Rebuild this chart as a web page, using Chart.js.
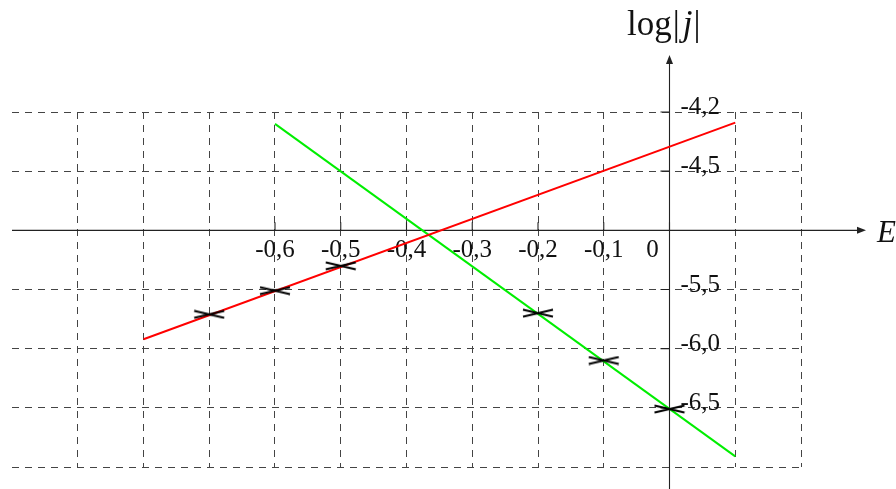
<!DOCTYPE html>
<html>
<head>
<meta charset="utf-8">
<script src="https://cdn.jsdelivr.net/npm/chart.js@4/dist/chart.umd.min.js"></script>
<style>
  html, body { margin: 0; padding: 0; background: #fff; }
  #wrap { width: 896px; height: 489px; position: relative; }
</style>
</head>
<body>
<div id="wrap"><canvas id="c"></canvas></div>
<script>
// Data (E in V, log|j|)
const redLineE = [-0.8, 0.1];
const redLineLog = [-5.92, -4.09];
const redMarkE = [-0.7, -0.6, -0.5];
const redMarkLog = [-5.71, -5.51, -5.30];

const greenLineE = [-0.6, 0.1];
const greenLineLog = [-4.10, -6.91];
const greenMarkE = [-0.2, -0.1, 0];
const greenMarkLog = [-5.70, -6.10, -6.51];

const xTickValues = [-0.6, -0.5, -0.4, -0.3, -0.2, -0.1, 0];
const xTickLabels = ['-0,6', '-0,5', '-0,4', '-0,3', '-0,2', '-0,1', '0'];
const yTickValues = [-4.0, -4.5, -5.5, -6.0, -6.5];
const yTickLabels = ['-4,2', '-4,5', '-5,5', '-6,0', '-6,5'];

const SERIF = "'Liberation Serif', 'DejaVu Serif', serif";

function toPoints(xs, ys) {
    return xs.map((x, i) => ({ x: x, y: ys[i] }));
}

// flattened cross marker ( >< )
function makeMarker() {
    const m = document.createElement('canvas');
    m.width = 32;
    m.height = 10;
    const g = m.getContext('2d');
    g.strokeStyle = '#000';
    g.lineWidth = 2;
    g.beginPath();
    g.moveTo(1, 1.5); g.lineTo(31, 8.5);
    g.moveTo(1, 8.5); g.lineTo(31, 1.5);
    g.stroke();
    return m;
}
const marker = makeMarker();

// axes, arrows, ticks and labels drawn through the chart scales
const axesPlugin = {
    id: 'axes',
    beforeDatasetsDraw(chart) {
        const ctx = chart.ctx;
        const xs = chart.scales.x;
        const ys = chart.scales.y;
        const x0 = xs.getPixelForValue(0);
        const y0 = ys.getPixelForValue(-5.0);
        const left = xs.getPixelForValue(-1.0);

        ctx.save();
        ctx.strokeStyle = '#222';
        ctx.fillStyle = '#222';
        ctx.lineWidth = 1.1;
        ctx.setLineDash([]);

        // x axis
        const xEnd = 866;
        ctx.beginPath();
        ctx.moveTo(left, y0);
        ctx.lineTo(xEnd - 6, y0);
        ctx.stroke();
        ctx.beginPath();
        ctx.moveTo(xEnd, y0);
        ctx.lineTo(xEnd - 9, y0 - 3.5);
        ctx.lineTo(xEnd - 9, y0 + 3.5);
        ctx.closePath();
        ctx.fill();

        // y axis
        const yTop = 55;
        ctx.beginPath();
        ctx.moveTo(x0, chart.height);
        ctx.lineTo(x0, yTop + 6);
        ctx.stroke();
        ctx.beginPath();
        ctx.moveTo(x0, yTop);
        ctx.lineTo(x0 - 3.5, yTop + 9);
        ctx.lineTo(x0 + 3.5, yTop + 9);
        ctx.closePath();
        ctx.fill();

        // ticks
        ctx.beginPath();
        xTickValues.forEach(v => {
            const px = xs.getPixelForValue(v);
            ctx.moveTo(px, y0 - 8);
            ctx.lineTo(px, y0);
        });
        yTickValues.forEach(v => {
            const py = ys.getPixelForValue(v);
            ctx.moveTo(x0 - 9, py);
            ctx.lineTo(x0, py);
        });
        ctx.stroke();

        // tick labels
        ctx.fillStyle = '#111';
        ctx.font = '25px ' + SERIF;
        ctx.textBaseline = 'alphabetic';
        xTickValues.forEach((v, i) => {
            let px = xs.getPixelForValue(v);
            if (v === 0) px -= 17;
            ctx.textAlign = 'center';
            ctx.fillText(xTickLabels[i], px, y0 + 27);
        });
        yTickValues.forEach((v, i) => {
            const py = ys.getPixelForValue(v);
            ctx.textAlign = 'left';
            ctx.fillText(yTickLabels[i], x0 + 11, py + 2);
        });

        // axis titles
        ctx.font = 'italic 31px ' + SERIF;
        ctx.textAlign = 'left';
        ctx.fillText('E', 877, y0 + 12);

        const parts = [
            ['log', '35px ' + SERIF],
            ['|', '35px ' + SERIF],
            ['j', 'italic 35px ' + SERIF],
            ['|', '35px ' + SERIF]
        ];
        let tx = 627;
        parts.forEach(p => {
            ctx.font = p[1];
            ctx.fillText(p[0], tx, 35);
            tx += ctx.measureText(p[0]).width + (p[0] === '|' ? 3 : 1);
        });
        ctx.restore();
    }
};

const gridColor = ctx => {
    const v = ctx.tick ? ctx.tick.value : null;
    if (v !== null && Math.abs(v + 1.0) < 1e-6) return 'rgba(0,0,0,0)';
    return '#444';
};

new Chart(document.getElementById('c'), {
    type: 'scatter',
    data: {
        datasets: [
            {
                data: toPoints(redLineE, redLineLog),
                showLine: true,
                borderColor: '#ff0000',
                borderWidth: 2,
                pointRadius: 0,
                order: 2
            },
            {
                data: toPoints(greenLineE, greenLineLog),
                showLine: true,
                borderColor: '#00ee00',
                borderWidth: 2,
                pointRadius: 0,
                order: 2
            },
            {
                data: toPoints(redMarkE, redMarkLog),
                showLine: false,
                pointStyle: marker,
                order: 1
            },
            {
                data: toPoints(greenMarkE, greenMarkLog),
                showLine: false,
                pointStyle: marker,
                order: 1
            }
        ]
    },
    options: {
        responsive: true,
        maintainAspectRatio: false,
        animation: false,
        layout: { padding: { left: 12, right: 95, top: 112, bottom: 22 } },
        plugins: {
            legend: { display: false },
            tooltip: { enabled: false }
        },
        scales: {
            x: {
                type: 'linear',
                min: -1.0,
                max: 0.2,
                ticks: { display: false, stepSize: 0.1 },
                grid: { color: gridColor, lineWidth: 1, drawTicks: false },
                border: { display: false, dash: [7, 6] }
            },
            y: {
                type: 'linear',
                min: -7.0,
                max: -4.0,
                ticks: { display: false, stepSize: 0.5 },
                grid: { color: '#444', lineWidth: 1, drawTicks: false },
                border: { display: false, dash: [7, 6] }
            }
        }
    },
    plugins: [axesPlugin]
});
</script>
</body>
</html>
